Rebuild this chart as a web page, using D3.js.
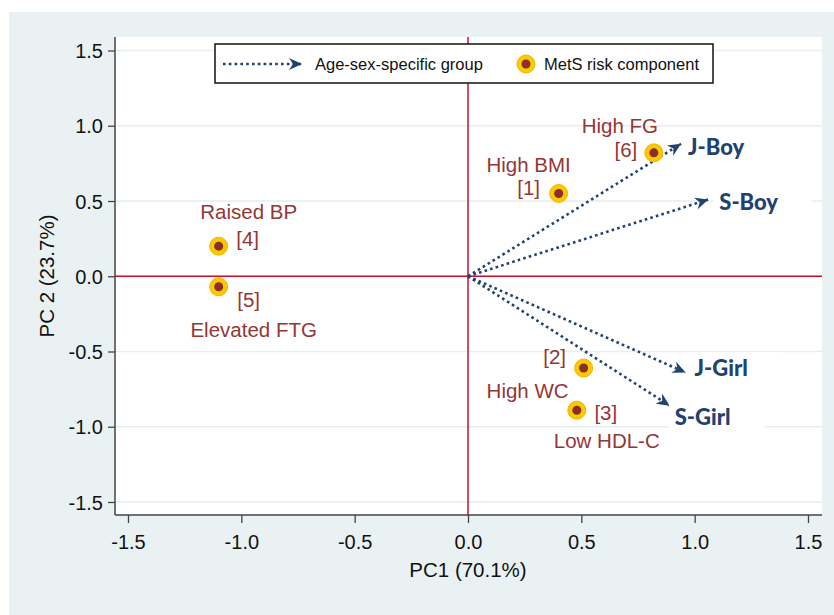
<!DOCTYPE html>
<html>
<head>
<meta charset="utf-8">
<script src="https://cdn.jsdelivr.net/npm/d3@7/dist/d3.min.js"></script>
<style>
  body { margin: 0; background: #fff; }
  text { font-family: "Liberation Sans", Arial, sans-serif; }
</style>
</head>
<body>
<div id="chart"></div>
<script>
// MetS risk components (loadings)
var components = ["High BMI", "High WC", "Low HDL-C", "Raised BP", "Elevated FTG", "High FG"];
var componentIds = ["[1]", "[2]", "[3]", "[4]", "[5]", "[6]"];
var componentPC1 = [0.40, 0.51, 0.48, -1.10, -1.10, 0.82];
var componentPC2 = [0.55, -0.61, -0.89, 0.20, -0.07, 0.82];

// age-sex-specific groups (arrow tips)
var groups = ["J-Boy", "S-Boy", "J-Girl", "S-Girl"];
var groupPC1 = [0.94, 1.06, 0.96, 0.89];
var groupPC2 = [0.88, 0.51, -0.64, -0.86];

var xTicks = [-1.5, -1.0, -0.5, 0.0, 0.5, 1.0, 1.5];
var yTicks = [-1.5, -1.0, -0.5, 0.0, 0.5, 1.0, 1.5];

// label placement (pixel offsets from the point: name, then id)
var nameOffset = [[-30, -29], [-56, 23], [30, 31], [30, -34], [35, 43], [-34, -27]];
var idOffset   = [[-30, -6], [-29, -11], [29, 3], [29, -7], [30, 13], [-28, -3]];
var groupLabelOffset = [[7, 3], [11, 3], [9, -4], [5, 12]];

var width = 834, height = 615;
var navy = "#1f4270", wine = "#943634", red = "#c8102e";

var svg = d3.select("#chart")
    .append("svg")
    .attr("width", width)
    .attr("height", height);

// backgrounds
svg.append("rect").attr("x", 9).attr("y", 12).attr("width", width - 9).attr("height", height - 12)
    .attr("fill", "#eaf1f3");
svg.append("rect").attr("x", 115).attr("y", 37).attr("width", 707).attr("height", 478)
    .attr("fill", "#fff");

var x = d3.scaleLinear().domain([-1.5, 1.5]).range([128, 808]);
var y = d3.scaleLinear().domain([-1.5, 1.5]).range([502, 50.5]);

// gridlines
svg.append("g").selectAll("line")
    .data(yTicks)
    .enter()
    .append("line")
    .attr("x1", 115).attr("x2", 822)
    .attr("y1", d => y(d)).attr("y2", d => y(d))
    .style("stroke", "#e6eef1")
    .style("stroke-width", 1.5);

// reference lines
svg.append("line").attr("x1", x(0)).attr("x2", x(0)).attr("y1", 37).attr("y2", 515)
    .style("stroke", red).style("stroke-width", 1.5);
svg.append("line").attr("x1", 115).attr("x2", 822).attr("y1", y(0)).attr("y2", y(0))
    .style("stroke", red).style("stroke-width", 1.5);

// axes
var fmt = d => d.toFixed(1);
var xAxis = svg.append("g")
    .attr("transform", "translate(0,515)")
    .call(d3.axisBottom(x).tickValues(xTicks).tickFormat(fmt).tickSize(8).tickSizeOuter(0).tickPadding(12));
var yAxis = svg.append("g")
    .attr("transform", "translate(115,0)")
    .call(d3.axisLeft(y).tickValues(yTicks).tickFormat(fmt).tickSize(7).tickSizeOuter(0).tickPadding(5));

[xAxis, yAxis].forEach(function(a) {
  a.select(".domain").remove();
  a.selectAll(".tick line").style("stroke", "#444").style("stroke-width", 1.3);
  a.selectAll(".tick text")
      .style("font-family", "'Liberation Sans', Arial, sans-serif")
      .style("font-size", "20px")
      .style("fill", "#111");
});
yAxis.selectAll(".tick text").attr("dy", "0.35em");

svg.append("line").attr("x1", 115).attr("x2", 822).attr("y1", 515).attr("y2", 515)
    .style("stroke", "#444").style("stroke-width", 1.5);
svg.append("line").attr("x1", 115).attr("x2", 115).attr("y1", 37).attr("y2", 515)
    .style("stroke", "#444").style("stroke-width", 1.5);

// axis titles
svg.append("text")
    .attr("x", 468).attr("y", 577)
    .attr("text-anchor", "middle")
    .style("font-size", "20.5px")
    .style("fill", "#111")
    .text("PC1 (70.1%)");
svg.append("text")
    .attr("transform", "translate(54,276) rotate(-90)")
    .attr("text-anchor", "middle")
    .style("font-size", "20.5px")
    .style("fill", "#111")
    .text("PC 2 (23.7%)");

// arrowhead marker
var defs = svg.append("defs");
defs.append("marker")
    .attr("id", "barb")
    .attr("viewBox", "-14 -7 16 14")
    .attr("refX", 0).attr("refY", 0)
    .attr("markerWidth", 16).attr("markerHeight", 14)
    .attr("markerUnits", "userSpaceOnUse")
    .attr("orient", "auto")
    .append("path")
    .attr("d", "M0,0 L-13,-6 L-9,0 L-13,6 Z")
    .attr("fill", navy);

// group arrows
var arrows = svg.append("g").attr("id", "arrows");
groups.forEach(function(g, i) {
  arrows.append("line")
      .attr("x1", x(0)).attr("y1", y(0))
      .attr("x2", x(groupPC1[i])).attr("y2", y(groupPC2[i]))
      .style("stroke", navy)
      .style("stroke-width", 2.6)
      .style("stroke-dasharray", "2.6,3.2")
      .attr("marker-end", "url(#barb)");
});

// group labels with white backing
groups.forEach(function(g, i) {
  var lx = x(groupPC1[i]) + groupLabelOffset[i][0];
  var ly = y(groupPC2[i]) + groupLabelOffset[i][1];
  var bg = arrows.append("rect").attr("fill", "#fff");
  var t = arrows.append("text")
      .attr("x", lx).attr("y", ly)
      .attr("dy", "0.35em")
      .style("font-family", "Lato, 'Open Sans', sans-serif")
      .style("font-weight", "900")
      .style("font-size", "22px")
      .style("fill", navy)
      .text(g);
  var b = t.node().getBBox();
  bg.attr("x", b.x - 6).attr("y", b.y - 2).attr("width", b.width + 40).attr("height", b.height + 4);
});

// component markers
var comps = svg.append("g").attr("id", "components");
components.forEach(function(c, i) {
  var px = x(componentPC1[i]), py = y(componentPC2[i]);
  comps.append("circle").attr("cx", px).attr("cy", py).attr("r", 9)
      .attr("fill", "#fcc800").attr("stroke", "#f2b600").attr("stroke-width", 1);
  comps.append("circle").attr("cx", px).attr("cy", py).attr("r", 4.5)
      .attr("fill", "#8b2e2e");
  comps.append("text")
      .attr("x", px + nameOffset[i][0]).attr("y", py + nameOffset[i][1])
      .attr("dy", "0.35em")
      .attr("text-anchor", "middle")
      .style("font-size", "20.5px")
      .style("fill", wine)
      .text(c);
  comps.append("text")
      .attr("x", px + idOffset[i][0]).attr("y", py + idOffset[i][1])
      .attr("dy", "0.35em")
      .attr("text-anchor", "middle")
      .style("font-size", "20.5px")
      .style("fill", wine)
      .text(componentIds[i]);
});

// legend
var legend = svg.append("g").attr("id", "legend");
legend.append("rect")
    .attr("x", 215).attr("y", 44).attr("width", 498).attr("height", 39)
    .attr("fill", "#fff").attr("stroke", "#111").attr("stroke-width", 1.5);
legend.append("line")
    .attr("x1", 223).attr("y1", 64).attr("x2", 302).attr("y2", 64)
    .style("stroke", navy)
    .style("stroke-width", 2.6)
    .style("stroke-dasharray", "2.6,3.2")
    .attr("marker-end", "url(#barb)");
legend.append("text")
    .attr("x", 315).attr("y", 64).attr("dy", "0.35em")
    .style("font-size", "16.5px").style("fill", "#111")
    .text("Age-sex-specific group");
legend.append("circle").attr("cx", 526).attr("cy", 64).attr("r", 9)
    .attr("fill", "#fcc800").attr("stroke", "#f2b600").attr("stroke-width", 1);
legend.append("circle").attr("cx", 526).attr("cy", 64).attr("r", 4.5)
    .attr("fill", "#8b2e2e");
legend.append("text")
    .attr("x", 544).attr("y", 64).attr("dy", "0.35em")
    .style("font-size", "16.5px").style("fill", "#111")
    .text("MetS risk component");
</script>
</body>
</html>
